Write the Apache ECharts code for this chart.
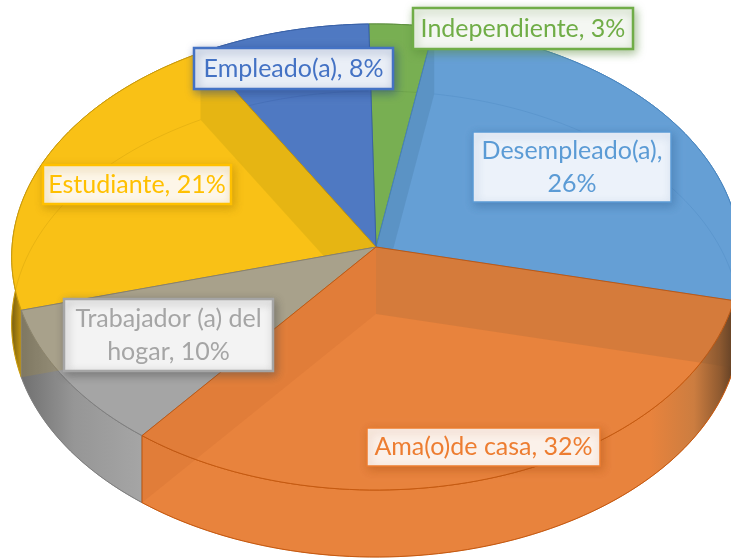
<!DOCTYPE html>
<html>
<head>
<meta charset="utf-8">
<style>
  html, body { margin: 0; padding: 0; background: #fff; }
  #main { width: 731px; height: 560px; }
</style>
<script src="https://cdn.jsdelivr.net/npm/echarts@6/dist/echarts.min.js"></script>
</head>
<body>
<div id="main"></div>
<script>
// data, clockwise from the top
var names = ['Independiente', 'Desempleado(a)', 'Ama(o)de casa', 'Trabajador (a) del\nhogar', 'Estudiante', 'Empleado(a)'];
var values = [3, 26, 32, 10, 21, 8];
var separators = [', ', ',\n', ', ', ', ', ', ', ', '];

// colours
var faceColors = ['#78AF52', '#659FD5', '#E8833D', '#A5A5A5', '#F9C116', '#4F79C2'];
var edgeColors = ['#5F9140', '#4A86BF', '#C55A11', '#7F7F7F', '#C99A0C', '#3A62A8'];
var textColors = ['#70AD47', '#5B9BD5', '#ED7D31', '#A5A5A5', '#FFC000', '#4472C4'];
var labelFills = ['#F4F7F2', '#ECF2FA', '#FBF1EA', '#F3F3F3', '#FDF6E8', '#EAEFF7'];
var shadowColors = ['rgba(90,140,60,0.5)', 'rgba(50,100,150,0.45)', 'rgba(170,80,20,0.45)', 'rgba(70,70,70,0.45)', 'rgba(170,125,0,0.45)', 'rgba(40,70,130,0.5)'];
var startWallTints = [null, 'rgba(30,70,90,0.13)', 'rgba(120,80,50,0.16)', null, null, null];
var endWallTints = [null, null, 'rgba(150,70,20,0.09)', 'rgba(180,150,50,0.22)', 'rgba(100,100,0,0.12)', null];
var paintOrder = [0, 1, 5, 4, 3, 2]; // back slices first

// side shading: [x from, x to, stops]
var sideShades = {
  2: [650, 738, [[0, '#E8833D'], [0.5, '#CC7D40'], [0.8, '#8F5A30'], [1, '#4F3520']]],
  3: [20, 140, [[0, '#6F6F6F'], [0.45, '#969696'], [1, '#A5A5A5']]],
  4: [10, 24, [[0, '#6B5510'], [1, '#D9A50F']]]
};

// label boxes: left, top, right, bottom, border width
var labelBoxes = [
  [413, 8, 633, 49, 2.5],
  [473, 132, 671, 202, 1.5],
  [367, 428, 600, 466, 1.5],
  [64, 299, 273, 371, 2.5],
  [43, 165, 231, 204, 2.5],
  [194, 48, 393, 89, 2.5]
];

// pie projection (Excel style 3D with slight perspective)
var cx = 376, apexY = 247, radiusX = 364, radiusY = 232.6, persp = 0.0429, depth = 67;
var firstAngle = -1.2;

var total = values.reduce(function (a, b) { return a + b; }, 0);
var angles = [firstAngle];
values.reduce(function (sum, v) {
  angles.push(echarts.number.linearMap(sum + v, [0, total], [firstAngle, firstAngle + 360]));
  return sum + v;
}, 0);

function rimPoint(deg, drop) {
  var a = deg * Math.PI / 180;
  var w = 1 + persp * Math.cos(a);
  return [cx + radiusX * Math.sin(a) / w, apexY - radiusY * Math.cos(a) / w + drop];
}

function arcPoints(from, to, drop) {
  var pts = [];
  var n = Math.ceil((to - from) / 1.5);
  for (var i = 0; i <= n; i++) {
    pts.push(rimPoint(from + (to - from) * i / n, drop));
  }
  return pts;
}

function poly(points, style, z2) {
  return { type: 'polygon', shape: { points: points }, style: style, z2: z2, silent: true };
}

function wall(deg, tint, z2) {
  return poly([[cx, apexY], rimPoint(deg, 0), rimPoint(deg, depth), [cx, apexY + depth]], { fill: tint }, z2);
}

function renderSlice(params, api) {
  var i = params.dataIndex;
  var from = angles[i], to = angles[i + 1];
  var base = paintOrder.indexOf(i) * 10;
  var face = faceColors[i], edge = edgeColors[i];
  var top = arcPoints(from, to, 0);
  var bottom = arcPoints(from, to, depth);

  var sideFill = face;
  if (sideShades[i]) {
    var s = sideShades[i];
    sideFill = new echarts.graphic.LinearGradient(s[0], 0, s[1], 0, s[2].map(function (c) {
      return { offset: c[0], color: c[1] };
    }), true);
  }

  var children = [
    // floor
    poly([[cx, apexY + depth]].concat(bottom), { fill: face }, base),
    // outer side
    poly(top.concat(bottom.slice().reverse()), { fill: sideFill, stroke: edge, lineWidth: 1 }, base + 1),
    // top face
    poly([[cx, apexY]].concat(top), { fill: face, stroke: edge, lineWidth: 1, opacity: 1 }, base + 2)
  ];
  // radial walls seen through the face
  if (startWallTints[i]) children.push(wall(from, startWallTints[i], base + 3));
  if (endWallTints[i]) children.push(wall(to, endWallTints[i], base + 3));
  // floor rim seen through the face
  children.push({
    type: 'polyline',
    shape: { points: bottom },
    style: { fill: null, stroke: edge, lineWidth: 1, opacity: 0.35 },
    z2: base + 4,
    silent: true
  });
  return { type: 'group', children: children };
}

function renderLabel(params, api) {
  var i = params.dataIndex;
  var b = labelBoxes[i];
  return {
    type: 'group',
    children: [{
      type: 'rect',
      shape: { x: b[0], y: b[1], width: b[2] - b[0], height: b[3] - b[1] },
      style: {
        fill: labelFills[i],
        stroke: textColors[i],
        lineWidth: b[4],
        shadowBlur: 9,
        shadowOffsetX: 2,
        shadowOffsetY: 3,
        shadowColor: shadowColors[i]
      },
      silent: true
    }, {
      type: 'text',
      x: (b[0] + b[2]) / 2,
      y: (b[1] + b[3]) / 2,
      style: {
        text: names[i] + separators[i] + values[i] + '%',
        fill: textColors[i],
        font: '25px Lato',
        lineHeight: 33,
        align: 'center',
        verticalAlign: 'middle'
      },
      z2: 1,
      silent: true
    }]
  };
}

var sliceData = names.map(function (n, i) { return { name: n, value: values[i] }; });

var myChart = echarts.init(document.getElementById('main'), null, { renderer: 'canvas' });
myChart.setOption({
  backgroundColor: '#fff',
  animation: false,
  tooltip: { show: false },
  series: [
    { type: 'custom', coordinateSystem: 'none', renderItem: renderSlice, data: sliceData, z: 2, clip: false },
    { type: 'custom', coordinateSystem: 'none', renderItem: renderLabel, data: sliceData, z: 3, clip: false }
  ]
});
</script>
</body>
</html>
